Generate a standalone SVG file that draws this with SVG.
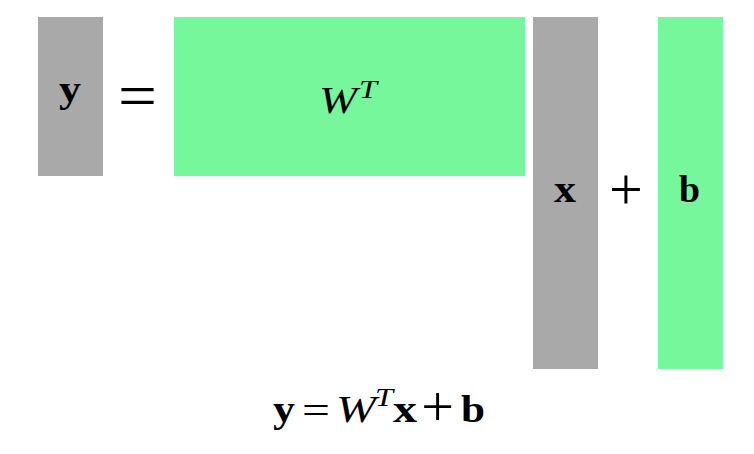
<svg xmlns="http://www.w3.org/2000/svg" width="754" height="454" viewBox="0 0 754 454">
<style>
.gray{fill:#a9a9a9}
.green{fill:#76f79b}
.bf{font-family:"Liberation Serif","DejaVu Serif",serif;font-weight:bold;font-size:37px;fill:#000}
.it{font-family:"Liberation Serif","DejaVu Serif",serif;font-style:italic;font-size:38px;fill:#000}
.sup{font-family:"Liberation Serif","DejaVu Serif",serif;font-style:italic;font-size:25px;fill:#000}
.op{font-family:"Liberation Serif","DejaVu Serif",serif;fill:#000}
</style>
<rect width="754" height="454" fill="#fff"/>
<g id="node-y">
<rect class="gray" x="38" y="17" width="65" height="159"/>
<text class="bf" x="59" y="102" textLength="22" lengthAdjust="spacingAndGlyphs">y</text>
</g>
<g id="op-eq">
<text class="op" x="118" y="117" font-size="64" textLength="39" lengthAdjust="spacingAndGlyphs">=</text>
</g>
<g id="node-W">
<rect class="green" x="174" y="17" width="351" height="159"/>
<text class="it" x="319" y="113" textLength="38" lengthAdjust="spacingAndGlyphs">W</text>
<text class="sup" x="359" y="98" textLength="18" lengthAdjust="spacingAndGlyphs">T</text>
</g>
<g id="node-x">
<rect class="gray" x="533" y="17" width="65" height="352"/>
<text class="bf" x="554" y="202" textLength="22" lengthAdjust="spacingAndGlyphs">x</text>
</g>
<g id="op-plus">
<text class="op" x="626" y="208.5" font-size="60" text-anchor="middle">+</text>
</g>
<g id="node-b">
<rect class="green" x="658" y="17" width="65" height="352"/>
<text class="bf" x="679" y="202" textLength="21" lengthAdjust="spacingAndGlyphs">b</text>
</g>
<g id="formula">
<text class="bf" x="273" y="422" textLength="22" lengthAdjust="spacingAndGlyphs">y</text>
<text class="op" x="302" y="423" font-size="38" textLength="28" lengthAdjust="spacingAndGlyphs">=</text>
<text class="it" x="336" y="422" textLength="40" lengthAdjust="spacingAndGlyphs">W</text>
<text class="sup" x="375" y="406" textLength="18" lengthAdjust="spacingAndGlyphs">T</text>
<text class="bf" x="393" y="422" textLength="24" lengthAdjust="spacingAndGlyphs">x</text>
<text class="op" x="437.5" y="426" font-size="58" text-anchor="middle">+</text>
<text class="bf" x="461" y="422" textLength="24" lengthAdjust="spacingAndGlyphs">b</text>
</g>
</svg>
